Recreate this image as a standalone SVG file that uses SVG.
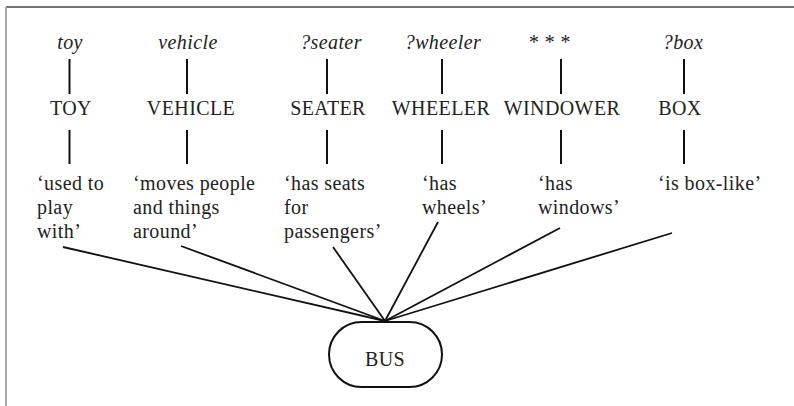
<svg xmlns="http://www.w3.org/2000/svg" width="794" height="406" viewBox="0 0 794 406">
<style>
text{font-family:"Liberation Serif","DejaVu Serif",serif;font-size:20px;fill:#222;letter-spacing:0.4px}
.it{font-style:italic}
.c{text-anchor:middle}
.v{stroke:#111;stroke-width:2;fill:none}
.e{stroke:#111;stroke-width:1.8;fill:none}
</style>
<rect width="794" height="406" fill="#fff"/>
<g id="frame">
<line x1="6" y1="7" x2="794" y2="7" stroke="#444" stroke-width="1.5"/>
<line x1="6" y1="7" x2="6" y2="406" stroke="#aaa" stroke-width="2"/>
</g>
<g id="toy">
<text class="it c" x="70" y="49">toy</text>
<line class="v" x1="69.5" y1="59" x2="69.5" y2="94"/>
<text class="c" x="71" y="115">TOY</text>
<line class="v" x1="69.5" y1="130" x2="69.5" y2="164"/>
<text x="37" y="190">‘used to</text>
<text x="37" y="214">play</text>
<text x="37" y="238">with’</text>
</g>
<g id="vehicle">
<text class="it c" x="188" y="49">vehicle</text>
<line class="v" x1="187" y1="59" x2="187" y2="94"/>
<text class="c" x="191" y="115">VEHICLE</text>
<line class="v" x1="187" y1="130" x2="187" y2="164"/>
<text x="133" y="190">‘moves people</text>
<text x="133" y="214">and things</text>
<text x="133" y="238">around’</text>
</g>
<g id="seater">
<text class="it c" x="331" y="49">?seater</text>
<line class="v" x1="327" y1="59" x2="327" y2="94"/>
<text class="c" x="328" y="115">SEATER</text>
<line class="v" x1="327" y1="130" x2="327" y2="164"/>
<text x="284" y="190">‘has seats</text>
<text x="284" y="214">for</text>
<text x="284" y="238">passengers’</text>
</g>
<g id="wheeler">
<text class="it c" x="443" y="49">?wheeler</text>
<line class="v" x1="442" y1="59" x2="442" y2="94"/>
<text class="c" x="441" y="115">WHEELER</text>
<line class="v" x1="442" y1="130" x2="442" y2="164"/>
<text x="422" y="190">‘has</text>
<text x="422" y="214">wheels’</text>
</g>
<g id="windower">
<text class="it c" x="549" y="49">* * *</text>
<line class="v" x1="561" y1="59" x2="561" y2="94"/>
<text class="c" x="562" y="115">WINDOWER</text>
<line class="v" x1="561" y1="130" x2="561" y2="164"/>
<text x="538" y="190">‘has</text>
<text x="538" y="214">windows’</text>
</g>
<g id="box">
<text class="it c" x="683" y="49">?box</text>
<line class="v" x1="684" y1="59" x2="684" y2="94"/>
<text class="c" x="680" y="115">BOX</text>
<line class="v" x1="684" y1="130" x2="684" y2="164"/>
<text x="658" y="190">‘is box-like’</text>
</g>
<g id="bus">
<rect x="329" y="322" width="113" height="65" rx="32.5" ry="32.5" fill="#fff" stroke="#111" stroke-width="2"/>
<text class="c" x="385" y="366">BUS</text>
</g>
<g id="connectors">
<line class="e" x1="63" y1="247" x2="385" y2="321"/>
<line class="e" x1="181" y1="246" x2="385" y2="321"/>
<line class="e" x1="333" y1="247" x2="385" y2="321"/>
<line class="e" x1="438" y1="222" x2="385" y2="321"/>
<line class="e" x1="560" y1="228" x2="385" y2="321"/>
<line class="e" x1="672" y1="233" x2="385" y2="321"/>
</g>
</svg>
